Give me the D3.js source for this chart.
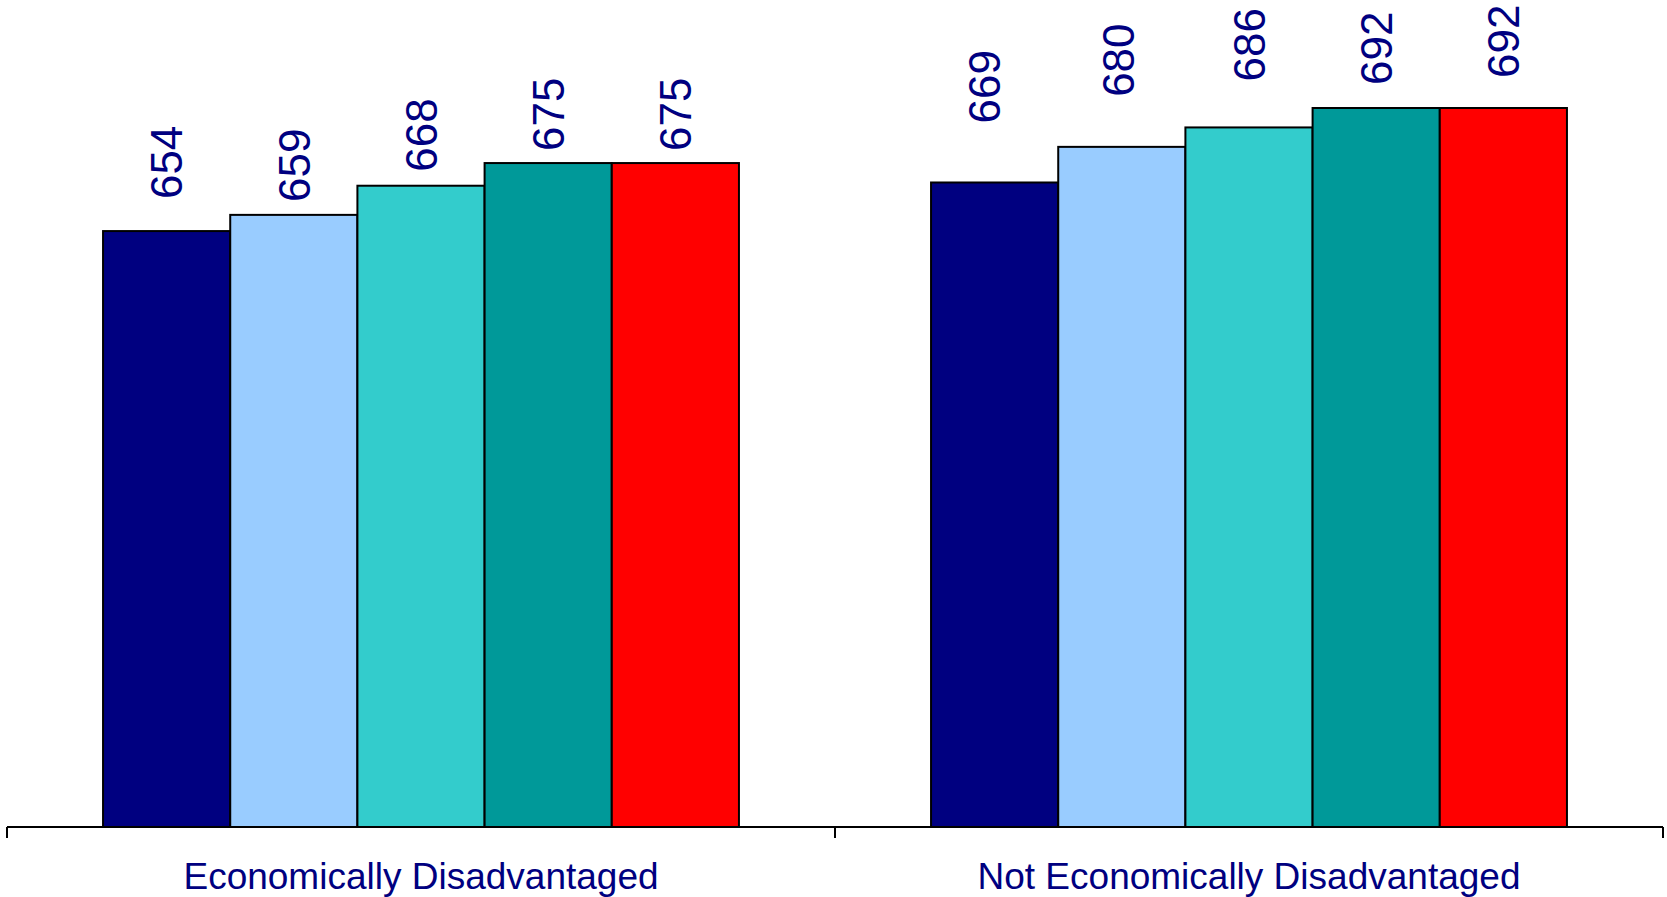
<!DOCTYPE html>
<html>
<head>
<meta charset="utf-8">
<script src="https://cdn.jsdelivr.net/npm/d3@7"></script>
<style>
  html, body { margin: 0; padding: 0; background: #ffffff; }
  svg { display: block; }
</style>
</head>
<body>
<svg id="chart" width="1667" height="897"></svg>
<script>
// ---- data ----
const categories = ["Economically Disadvantaged", "Not Economically Disadvantaged"];
const seriesNames = ["S1", "S2", "S3", "S4", "S5"];
const econDisadvantaged = [654, 659, 668, 675, 675];
const notEconDisadvantaged = [669, 680, 686, 692, 692];
const valueLabels = [
  ["654", "659", "668", "675", "675"],
  ["669", "680", "686", "692", "692"]
];

// ---- layout / style (not data) ----
const seriesColors = ["#000080", "#99CCFF", "#33CCCC", "#009999", "#FF0000"];
const labelGap = [
  [34, 15, 16, 14, 14],
  [61, 52, 48, 25, 32]
];
const labelShiftX = [
  [0, 0, 0, 0, 0],
  [-10, -4, 0, 0, 0]
];

const values = [econDisadvantaged, notEconDisadvantaged];

const svg = d3.select("#chart");
const left = 7, right = 1663, baseY = 827;

const x0 = d3.scaleBand()
  .domain(categories)
  .range([left, right])
  .paddingInner(0.232)
  .paddingOuter(0.116);

const x1 = d3.scaleBand()
  .domain(seriesNames)
  .range([0, x0.bandwidth()])
  .padding(0);

const y = d3.scaleLinear()
  .domain([470, 692])
  .range([baseY, 108]);

const groups = svg.selectAll("g.cat")
  .data(categories)
  .join("g")
  .attr("class", "cat")
  .attr("transform", d => `translate(${x0(d)},0)`);

groups.each(function(cat, ci) {
  const g = d3.select(this);
  const rows = seriesNames.map((s, si) => ({
    s, si, v: values[ci][si], lab: valueLabels[ci][si],
    gap: labelGap[ci][si], dx: labelShiftX[ci][si]
  }));
  g.selectAll("rect")
    .data(rows)
    .join("rect")
    .attr("x", d => x1(d.s))
    .attr("y", d => y(d.v))
    .attr("width", x1.bandwidth())
    .attr("height", d => baseY - y(d.v))
    .attr("fill", d => seriesColors[d.si])
    .attr("stroke", "#000")
    .attr("stroke-width", 2);

  g.selectAll("text.val")
    .data(rows)
    .join("text")
    .attr("class", "val")
    .attr("transform", d => `translate(${x1(d.s) + x1.bandwidth() / 2 + d.dx},${y(d.v) - d.gap + 2}) rotate(-90)`)
    .attr("dy", "0.358em")
    .attr("text-anchor", "start")
    .attr("font-family", "'Liberation Sans', Arial, sans-serif")
    .attr("font-size", 44)
    .attr("fill", "#000080")
    .text(d => d.lab);
});

// axis baseline with ticks at category boundaries
const step = x0.step();
const tickXs = d3.range(categories.length + 1).map(i => left + i * step);
svg.append("line")
  .attr("x1", left).attr("x2", right)
  .attr("y1", baseY).attr("y2", baseY)
  .attr("stroke", "#000").attr("stroke-width", 2);
svg.selectAll("line.tick")
  .data(tickXs)
  .join("line")
  .attr("class", "tick")
  .attr("x1", d => d).attr("x2", d => d)
  .attr("y1", baseY).attr("y2", baseY + 11)
  .attr("stroke", "#000").attr("stroke-width", 2);

svg.selectAll("text.cat")
  .data(categories)
  .join("text")
  .attr("class", "cat")
  .attr("x", d => x0(d) + x0.bandwidth() / 2)
  .attr("y", 889)
  .attr("text-anchor", "middle")
  .attr("font-family", "'Liberation Sans', Arial, sans-serif")
  .attr("font-size", 37)
  .attr("fill", "#000080")
  .text(d => d);
</script>
</body>
</html>
